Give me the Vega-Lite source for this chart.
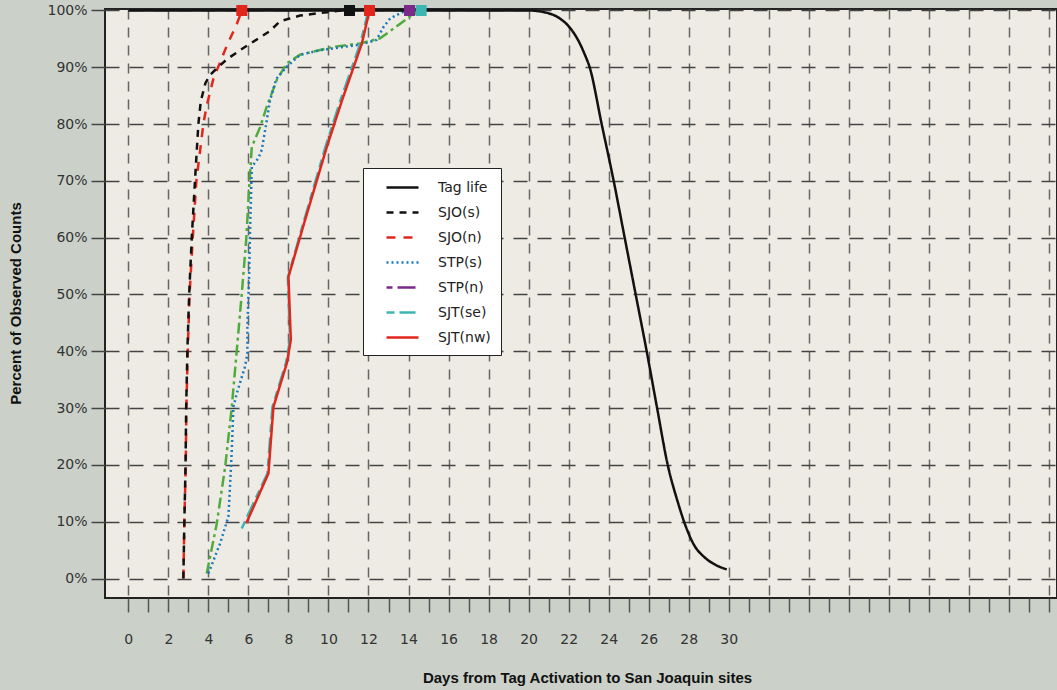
{
  "$schema": "https://vega.github.io/schema/vega-lite/v6.json",
  "width": 952,
  "height": 589,
  "autosize": "none",
  "padding": {"left": 105, "top": 9, "right": 0, "bottom": 92},
  "background": "#cbd1c9",
  "config": {
    "view": {"fill": "#eeebe5", "stroke": "#222222", "strokeWidth": 2},
    "font": "DejaVu Sans"
  },
  "datasets": {
    "lines": [
      {"s": "Tag life", "i": 0, "d": 0, "p": 100},
      {"s": "Tag life", "i": 1, "d": 20, "p": 100},
      {"s": "Tag life", "i": 2, "d": 21, "p": 99.5},
      {"s": "Tag life", "i": 3, "d": 21.6, "p": 98.5},
      {"s": "Tag life", "i": 4, "d": 22.1, "p": 96.8},
      {"s": "Tag life", "i": 5, "d": 22.5, "p": 94.6},
      {"s": "Tag life", "i": 6, "d": 22.8, "p": 92.3},
      {"s": "Tag life", "i": 7, "d": 23.05, "p": 90},
      {"s": "Tag life", "i": 8, "d": 23.65, "p": 80},
      {"s": "Tag life", "i": 9, "d": 24.25, "p": 70},
      {"s": "Tag life", "i": 10, "d": 24.8, "p": 60},
      {"s": "Tag life", "i": 11, "d": 25.35, "p": 50},
      {"s": "Tag life", "i": 12, "d": 25.9, "p": 40},
      {"s": "Tag life", "i": 13, "d": 26.42, "p": 30},
      {"s": "Tag life", "i": 14, "d": 26.95, "p": 20},
      {"s": "Tag life", "i": 15, "d": 27.45, "p": 13.5},
      {"s": "Tag life", "i": 16, "d": 27.85, "p": 9.2},
      {"s": "Tag life", "i": 17, "d": 28.25, "p": 6.0},
      {"s": "Tag life", "i": 18, "d": 28.8, "p": 3.7},
      {"s": "Tag life", "i": 19, "d": 29.4, "p": 2.3},
      {"s": "Tag life", "i": 20, "d": 29.9, "p": 1.6},

      {"s": "STP(n)*", "i": 0, "d": 3.92, "p": 0.9},
      {"s": "STP(n)*", "i": 1, "d": 4.42, "p": 9.7},
      {"s": "STP(n)*", "i": 2, "d": 4.84, "p": 19.7},
      {"s": "STP(n)*", "i": 3, "d": 5.17, "p": 30.2},
      {"s": "STP(n)*", "i": 4, "d": 5.42, "p": 40.2},
      {"s": "STP(n)*", "i": 5, "d": 5.67, "p": 50.2},
      {"s": "STP(n)*", "i": 6, "d": 5.89, "p": 59.6},
      {"s": "STP(n)*", "i": 7, "d": 6.05, "p": 69.6},
      {"s": "STP(n)*", "i": 8, "d": 6.17, "p": 76},
      {"s": "STP(n)*", "i": 9, "d": 6.59, "p": 79.5},
      {"s": "STP(n)*", "i": 10, "d": 6.92, "p": 83.1},
      {"s": "STP(n)*", "i": 11, "d": 7.42, "p": 87.8},
      {"s": "STP(n)*", "i": 12, "d": 7.92, "p": 90.7},
      {"s": "STP(n)*", "i": 13, "d": 8.58, "p": 92.2},
      {"s": "STP(n)*", "i": 14, "d": 10.25, "p": 93.6},
      {"s": "STP(n)*", "i": 15, "d": 11.58, "p": 94.2},
      {"s": "STP(n)*", "i": 16, "d": 12.58, "p": 95.1},
      {"s": "STP(n)*", "i": 17, "d": 13.25, "p": 96.8},
      {"s": "STP(n)*", "i": 18, "d": 14.17, "p": 99.2},
      {"s": "STP(n)*", "i": 19, "d": 14.63, "p": 100},

      {"s": "STP(s)", "i": 0, "d": 4.0, "p": 0.9},
      {"s": "STP(s)", "i": 1, "d": 4.59, "p": 6.2},
      {"s": "STP(s)", "i": 2, "d": 5.0, "p": 10.9},
      {"s": "STP(s)", "i": 3, "d": 5.08, "p": 16.2},
      {"s": "STP(s)", "i": 4, "d": 5.17, "p": 22.6},
      {"s": "STP(s)", "i": 5, "d": 5.25, "p": 30.2},
      {"s": "STP(s)", "i": 6, "d": 5.42, "p": 32.6},
      {"s": "STP(s)", "i": 7, "d": 5.83, "p": 37.3},
      {"s": "STP(s)", "i": 8, "d": 5.95, "p": 39.6},
      {"s": "STP(s)", "i": 9, "d": 5.95, "p": 44.3},
      {"s": "STP(s)", "i": 10, "d": 6.03, "p": 52.5},
      {"s": "STP(s)", "i": 11, "d": 6.08, "p": 60.8},
      {"s": "STP(s)", "i": 12, "d": 6.17, "p": 72.5},
      {"s": "STP(s)", "i": 13, "d": 6.5, "p": 74},
      {"s": "STP(s)", "i": 14, "d": 6.67, "p": 75.5},
      {"s": "STP(s)", "i": 15, "d": 6.92, "p": 80.7},
      {"s": "STP(s)", "i": 16, "d": 7.08, "p": 84.2},
      {"s": "STP(s)", "i": 17, "d": 7.4, "p": 88},
      {"s": "STP(s)", "i": 18, "d": 7.92, "p": 90.1},
      {"s": "STP(s)", "i": 19, "d": 8.58, "p": 92.2},
      {"s": "STP(s)", "i": 20, "d": 9.58, "p": 93},
      {"s": "STP(s)", "i": 21, "d": 11.6, "p": 94},
      {"s": "STP(s)", "i": 22, "d": 12.4, "p": 94.8},
      {"s": "STP(s)", "i": 23, "d": 12.75, "p": 97.1},
      {"s": "STP(s)", "i": 24, "d": 13.08, "p": 98.6},
      {"s": "STP(s)", "i": 25, "d": 13.75, "p": 99.8},
      {"s": "STP(s)", "i": 26, "d": 14.05, "p": 100},

      {"s": "SJT(se)", "i": 0, "d": 5.67, "p": 8.8},
      {"s": "SJT(se)", "i": 1, "d": 5.95, "p": 11},
      {"s": "SJT(se)", "i": 2, "d": 6.95, "p": 18.5},
      {"s": "SJT(se)", "i": 3, "d": 7.2, "p": 30.2},
      {"s": "SJT(se)", "i": 4, "d": 7.88, "p": 38},
      {"s": "SJT(se)", "i": 5, "d": 8.08, "p": 42},
      {"s": "SJT(se)", "i": 6, "d": 7.97, "p": 53},
      {"s": "SJT(se)", "i": 7, "d": 8.78, "p": 63},
      {"s": "SJT(se)", "i": 8, "d": 9.85, "p": 76},
      {"s": "SJT(se)", "i": 9, "d": 10.6, "p": 84.2},
      {"s": "SJT(se)", "i": 10, "d": 11.6, "p": 94.3},
      {"s": "SJT(se)", "i": 11, "d": 12.0, "p": 100},

      {"s": "SJT(nw)", "i": 0, "d": 5.89, "p": 9.7},
      {"s": "SJT(nw)", "i": 1, "d": 7.0, "p": 18.5},
      {"s": "SJT(nw)", "i": 2, "d": 7.25, "p": 30.2},
      {"s": "SJT(nw)", "i": 3, "d": 7.92, "p": 37.9},
      {"s": "SJT(nw)", "i": 4, "d": 8.12, "p": 42},
      {"s": "SJT(nw)", "i": 5, "d": 8.0, "p": 53.1},
      {"s": "SJT(nw)", "i": 6, "d": 8.83, "p": 63.1},
      {"s": "SJT(nw)", "i": 7, "d": 9.92, "p": 76},
      {"s": "SJT(nw)", "i": 8, "d": 10.68, "p": 84.2},
      {"s": "SJT(nw)", "i": 9, "d": 11.67, "p": 94.2},
      {"s": "SJT(nw)", "i": 10, "d": 12.05, "p": 100},

      {"s": "SJO(n)", "i": 0, "d": 2.75, "p": 0},
      {"s": "SJO(n)", "i": 1, "d": 2.8, "p": 10},
      {"s": "SJO(n)", "i": 2, "d": 2.87, "p": 20},
      {"s": "SJO(n)", "i": 3, "d": 2.9, "p": 30},
      {"s": "SJO(n)", "i": 4, "d": 2.97, "p": 40},
      {"s": "SJO(n)", "i": 5, "d": 3.06, "p": 50},
      {"s": "SJO(n)", "i": 6, "d": 3.22, "p": 60},
      {"s": "SJO(n)", "i": 7, "d": 3.4, "p": 70},
      {"s": "SJO(n)", "i": 8, "d": 3.75, "p": 80},
      {"s": "SJO(n)", "i": 9, "d": 3.9, "p": 83},
      {"s": "SJO(n)", "i": 10, "d": 4.25, "p": 88},
      {"s": "SJO(n)", "i": 11, "d": 4.6, "p": 91},
      {"s": "SJO(n)", "i": 12, "d": 4.92, "p": 93.8},
      {"s": "SJO(n)", "i": 13, "d": 5.42, "p": 97.6},
      {"s": "SJO(n)", "i": 14, "d": 5.67, "p": 100},

      {"s": "SJO(s)", "i": 0, "d": 2.75, "p": 0},
      {"s": "SJO(s)", "i": 1, "d": 2.8, "p": 10},
      {"s": "SJO(s)", "i": 2, "d": 2.86, "p": 20},
      {"s": "SJO(s)", "i": 3, "d": 2.89, "p": 30},
      {"s": "SJO(s)", "i": 4, "d": 2.95, "p": 40},
      {"s": "SJO(s)", "i": 5, "d": 3.04, "p": 50},
      {"s": "SJO(s)", "i": 6, "d": 3.17, "p": 60},
      {"s": "SJO(s)", "i": 7, "d": 3.33, "p": 70},
      {"s": "SJO(s)", "i": 8, "d": 3.5, "p": 80},
      {"s": "SJO(s)", "i": 9, "d": 3.62, "p": 84},
      {"s": "SJO(s)", "i": 10, "d": 3.85, "p": 87.2},
      {"s": "SJO(s)", "i": 11, "d": 4.1, "p": 88.7},
      {"s": "SJO(s)", "i": 12, "d": 4.45, "p": 89.9},
      {"s": "SJO(s)", "i": 13, "d": 4.92, "p": 91.4},
      {"s": "SJO(s)", "i": 14, "d": 5.75, "p": 93.4},
      {"s": "SJO(s)", "i": 15, "d": 6.42, "p": 94.9},
      {"s": "SJO(s)", "i": 16, "d": 7.08, "p": 96.4},
      {"s": "SJO(s)", "i": 17, "d": 7.58, "p": 98.1},
      {"s": "SJO(s)", "i": 18, "d": 8.58, "p": 99.1},
      {"s": "SJO(s)", "i": 19, "d": 9.93, "p": 99.7},
      {"s": "SJO(s)", "i": 20, "d": 10.6, "p": 100},
      {"s": "SJO(s)", "i": 21, "d": 11.05, "p": 100}
    ],
    "ends": [
      {"s": "SJO(n)", "d": 5.67, "p": 100},
      {"s": "SJO(s)", "d": 11.05, "p": 100},
      {"s": "SJT(nw)", "d": 12.05, "p": 100},
      {"s": "STP(n)", "d": 14.05, "p": 100},
      {"s": "SJT(se)", "d": 14.63, "p": 100}
    ]
  },
  "encoding": {
    "x": {
      "field": "d", "type": "quantitative",
      "scale": {"domain": [-1.165, 46.4], "nice": false, "zero": false},
      "axis": {
        "title": "Days from Tag Activation to San Joaquin sites",
        "titleFont": "Liberation Sans", "titleFontSize": 15, "titleFontWeight": "bold", "titleColor": "#111111",
        "titleX": 482, "titleY": 84, "titleAlign": "center", "titleBaseline": "alphabetic",
        "values": [0,1,2,3,4,5,6,7,8,9,10,11,12,13,14,15,16,17,18,19,20,21,22,23,24,25,26,27,28,29,30,31,32,33,34,35,36,37,38,39,40,41,42,43,44,45,46],
        "labelExpr": "datum.value <= 30 && datum.value % 2 == 0 ? datum.label : ''",
        "labelFontSize": 14, "labelColor": "#333333", "labelPadding": 20, "labelBaseline": "top",
        "labelOverlap": false, "labelFlush": false,
        "tickSize": 14, "tickColor": "#555555", "tickWidth": 1.5,
        "domain": false,
        "grid": true, "gridColor": "#666666", "gridWidth": 1.5, "gridDash": [10, 8],
        "gridOpacity": {"condition": {"test": "datum.value % 2 == 0", "value": 1}, "value": 0}
      }
    },
    "y": {
      "field": "p", "type": "quantitative",
      "scale": {"domain": [-3.43, 100.26], "nice": false, "zero": false},
      "axis": {
        "title": "Percent of Observed Counts",
        "titleFont": "Liberation Sans", "titleFontSize": 15, "titleFontWeight": "bold", "titleColor": "#111111",
        "titleX": -90, "titleY": 294, "titleAngle": -90, "titleAlign": "center", "titleBaseline": "middle",
        "values": [0,10,20,30,40,50,60,70,80,90,100],
        "labelExpr": "datum.value + '%'",
        "labelFontSize": 14, "labelColor": "#333333", "labelPadding": 4,
        "tickSize": 14, "tickColor": "#444444", "tickWidth": 1.5,
        "domain": false,
        "grid": true, "gridColor": "#444444", "gridWidth": 1.5, "gridDash": [14, 10]
      }
    }
  },
  "layer": [
    {
      "data": {"name": "lines"},
      "transform": [{"filter": "datum.s != 'Tag life'"}],
      "mark": {"type": "line", "strokeWidth": 2.5},
      "encoding": {
        "order": {"field": "i", "type": "quantitative"},
        "color": {
          "field": "s", "type": "nominal",
          "scale": {
            "domain": ["Tag life", "SJO(s)", "SJO(n)", "STP(s)", "STP(n)", "SJT(se)", "SJT(nw)", "STP(n)*"],
            "range": ["#111111", "#111111", "#e2261c", "#1a78bf", "#7a2a88", "#3bb6b0", "#e2261c", "#4fab3c"]
          },
          "legend": {
            "orient": "none", "legendX": 258, "legendY": 159, "title": null,
            "values": ["Tag life", "SJO(s)", "SJO(n)", "STP(s)", "STP(n)", "SJT(se)", "SJT(nw)"],
            "fillColor": "#ffffff", "strokeColor": "#222222", "padding": 10, "rowPadding": 8,
            "symbolType": "M0.5,0H4.5", "symbolSize": 256, "symbolStrokeWidth": 2.5,
            "labelFontSize": 14, "labelColor": "#222222", "labelOffset": 46, "labelFont": "DejaVu Sans",
            "labelExpr": "datum.label + '\u00a0\u00a0\u00a0\u00a0'"
          }
        },
        "strokeDash": {
          "field": "s", "type": "nominal",
          "scale": {
            "domain": ["Tag life", "SJO(s)", "SJO(n)", "STP(s)", "STP(n)", "SJT(se)", "SJT(nw)", "STP(n)*"],
            "range": [[1, 0], [7, 6], [9, 8], [2, 3], [6, 5, 18, 5], [8, 5, 16, 5], [1, 0], [11, 4, 3, 4]]
          },
          "legend": {
            "orient": "none", "legendX": 258, "legendY": 159, "title": null,
            "values": ["Tag life", "SJO(s)", "SJO(n)", "STP(s)", "STP(n)", "SJT(se)", "SJT(nw)"],
            "fillColor": "#ffffff", "strokeColor": "#222222", "padding": 10, "rowPadding": 8,
            "symbolType": "M0.5,0H4.5", "symbolSize": 256, "symbolStrokeWidth": 2.5,
            "labelFontSize": 14, "labelColor": "#222222", "labelOffset": 46, "labelFont": "DejaVu Sans",
            "labelExpr": "datum.label + '\u00a0\u00a0\u00a0\u00a0'"
          }
        }
      }
    },
    {
      "data": {"name": "lines"},
      "transform": [{"filter": "datum.s == 'Tag life'"}],
      "mark": {"type": "line", "strokeWidth": 2.5, "interpolate": "monotone"},
      "encoding": {
        "order": {"field": "i", "type": "quantitative"},
        "color": {
          "field": "s", "type": "nominal",
          "scale": {
            "domain": ["Tag life", "SJO(s)", "SJO(n)", "STP(s)", "STP(n)", "SJT(se)", "SJT(nw)", "STP(n)*"],
            "range": ["#111111", "#111111", "#e2261c", "#1a78bf", "#7a2a88", "#3bb6b0", "#e2261c", "#4fab3c"]
          },
          "legend": {
            "orient": "none", "legendX": 258, "legendY": 159, "title": null,
            "values": ["Tag life", "SJO(s)", "SJO(n)", "STP(s)", "STP(n)", "SJT(se)", "SJT(nw)"],
            "fillColor": "#ffffff", "strokeColor": "#222222", "padding": 10, "rowPadding": 8,
            "symbolType": "M0.5,0H4.5", "symbolSize": 256, "symbolStrokeWidth": 2.5,
            "labelFontSize": 14, "labelColor": "#222222", "labelOffset": 46, "labelFont": "DejaVu Sans",
            "labelExpr": "datum.label + '\u00a0\u00a0\u00a0\u00a0'"
          }
        },
        "strokeDash": {
          "field": "s", "type": "nominal",
          "scale": {
            "domain": ["Tag life", "SJO(s)", "SJO(n)", "STP(s)", "STP(n)", "SJT(se)", "SJT(nw)", "STP(n)*"],
            "range": [[1, 0], [7, 6], [9, 8], [2, 3], [6, 5, 18, 5], [8, 5, 16, 5], [1, 0], [11, 4, 3, 4]]
          },
          "legend": {
            "orient": "none", "legendX": 258, "legendY": 159, "title": null,
            "values": ["Tag life", "SJO(s)", "SJO(n)", "STP(s)", "STP(n)", "SJT(se)", "SJT(nw)"],
            "fillColor": "#ffffff", "strokeColor": "#222222", "padding": 10, "rowPadding": 8,
            "symbolType": "M0.5,0H4.5", "symbolSize": 256, "symbolStrokeWidth": 2.5,
            "labelFontSize": 14, "labelColor": "#222222", "labelOffset": 46, "labelFont": "DejaVu Sans",
            "labelExpr": "datum.label + '\u00a0\u00a0\u00a0\u00a0'"
          }
        }
      }
    },
    {
      "data": {"name": "ends"},
      "mark": {"type": "square", "size": 121, "opacity": 1},
      "encoding": {
        "color": {
          "field": "s", "type": "nominal",
          "scale": {
            "domain": ["Tag life", "SJO(s)", "SJO(n)", "STP(s)", "STP(n)", "SJT(se)", "SJT(nw)", "STP(n)*"],
            "range": ["#111111", "#111111", "#e2261c", "#1a78bf", "#7a2a88", "#3bb6b0", "#e2261c", "#4fab3c"]
          },
          "legend": null
        }
      }
    }
  ]
}
